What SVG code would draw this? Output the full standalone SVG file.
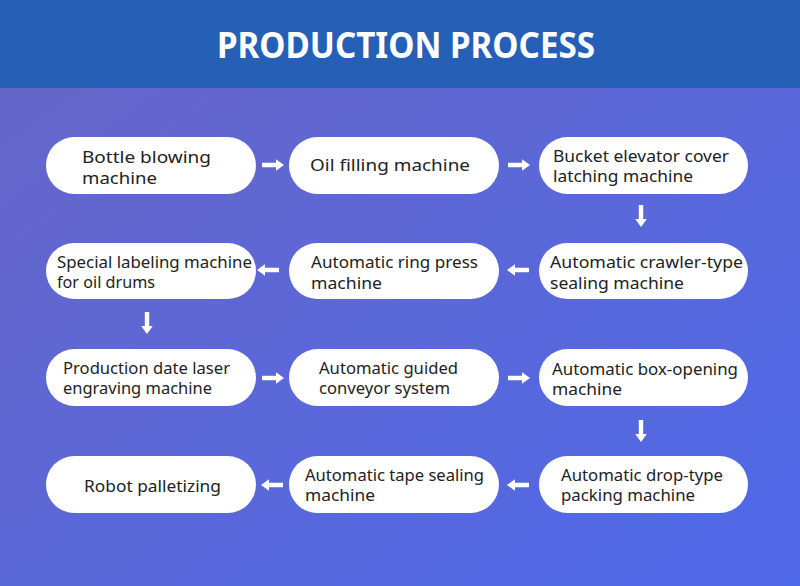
<svg xmlns="http://www.w3.org/2000/svg" width="800" height="586" viewBox="0 0 800 586">
<defs>
<linearGradient id="bg" x1="0" y1="0" x2="1" y2="1">
<stop offset="0" stop-color="#6866c6"/>
<stop offset="1" stop-color="#4e69e9"/>
</linearGradient>
<style>
.n{fill:#ffffff}
.t{font-family:"Noto Sans","Liberation Sans",sans-serif;font-size:17px;fill:#222222}
.h{font-family:"Noto Sans","Liberation Sans",sans-serif;font-size:35px;font-weight:bold;fill:#ffffff}
.a{fill:#ffffff}
</style>
<path id="ar" d="M-11,-2.2 L3,-2.2 L3,-5.8 L11,0 L3,5.8 L3,2.2 L-11,2.2 Z"/>
</defs>
<rect x="0" y="0" width="800" height="586" fill="url(#bg)"/>
<rect x="0" y="0" width="800" height="88" fill="#2660b6"/>
<text class="h" x="406" y="58" text-anchor="middle" textLength="378" lengthAdjust="spacingAndGlyphs">PRODUCTION PROCESS</text>

<g id="connectors" class="a">
<use href="#ar" transform="translate(273,165)"/>
<use href="#ar" transform="translate(519,165)"/>
<use href="#ar" transform="translate(641,216) rotate(90)"/>
<use href="#ar" transform="translate(518,270) rotate(180)"/>
<use href="#ar" transform="translate(268,270) rotate(180)"/>
<use href="#ar" transform="translate(147,323) rotate(90)"/>
<use href="#ar" transform="translate(273,378)"/>
<use href="#ar" transform="translate(519,378)"/>
<use href="#ar" transform="translate(641,431) rotate(90)"/>
<use href="#ar" transform="translate(518,485) rotate(180)"/>
<use href="#ar" transform="translate(272,485) rotate(180)"/>
</g>

<g id="n1"><rect class="n" x="46" y="137" width="210" height="57" rx="28.5"/>
<text class="t" x="82" y="163" textLength="129" lengthAdjust="spacingAndGlyphs">Bottle blowing</text>
<text class="t" x="82" y="184" textLength="75" lengthAdjust="spacingAndGlyphs">machine</text></g>

<g id="n2"><rect class="n" x="289" y="137" width="210" height="57" rx="28.5"/>
<text class="t" x="310" y="171" textLength="160" lengthAdjust="spacingAndGlyphs">Oil filling machine</text></g>

<g id="n3"><rect class="n" x="539" y="137" width="209" height="57" rx="28.5"/>
<text class="t" x="553" y="162" textLength="176" lengthAdjust="spacingAndGlyphs">Bucket elevator cover</text>
<text class="t" x="553" y="182" textLength="140" lengthAdjust="spacingAndGlyphs">latching machine</text></g>

<g id="n4"><rect class="n" x="539" y="243" width="209" height="56" rx="28"/>
<text class="t" x="550" y="268" textLength="193" lengthAdjust="spacingAndGlyphs">Automatic crawler-type</text>
<text class="t" x="550" y="289" textLength="134" lengthAdjust="spacingAndGlyphs">sealing machine</text></g>

<g id="n5"><rect class="n" x="289" y="243" width="210" height="56" rx="28"/>
<text class="t" x="311" y="268" textLength="167" lengthAdjust="spacingAndGlyphs">Automatic ring press</text>
<text class="t" x="311" y="289" textLength="71" lengthAdjust="spacingAndGlyphs">machine</text></g>

<g id="n6"><rect class="n" x="46" y="243" width="210" height="56" rx="28"/>
<text class="t" x="57" y="268" textLength="195" lengthAdjust="spacingAndGlyphs">Special labeling machine</text>
<text class="t" x="57" y="288" textLength="98" lengthAdjust="spacingAndGlyphs">for oil drums</text></g>

<g id="n7"><rect class="n" x="46" y="349" width="210" height="57" rx="28.5"/>
<text class="t" x="63" y="374" textLength="167" lengthAdjust="spacingAndGlyphs">Production date laser</text>
<text class="t" x="63" y="394" textLength="149" lengthAdjust="spacingAndGlyphs">engraving machine</text></g>

<g id="n8"><rect class="n" x="289" y="349" width="210" height="57" rx="28.5"/>
<text class="t" x="319" y="374" textLength="139" lengthAdjust="spacingAndGlyphs">Automatic guided</text>
<text class="t" x="319" y="394" textLength="131" lengthAdjust="spacingAndGlyphs">conveyor system</text></g>

<g id="n9"><rect class="n" x="539" y="349" width="209" height="57" rx="28.5"/>
<text class="t" x="552" y="375" textLength="186" lengthAdjust="spacingAndGlyphs">Automatic box-opening</text>
<text class="t" x="552" y="395" textLength="70" lengthAdjust="spacingAndGlyphs">machine</text></g>

<g id="n10"><rect class="n" x="539" y="456" width="209" height="57" rx="28.5"/>
<text class="t" x="561" y="481" textLength="162" lengthAdjust="spacingAndGlyphs">Automatic drop-type</text>
<text class="t" x="561" y="501" textLength="134" lengthAdjust="spacingAndGlyphs">packing machine</text></g>

<g id="n11"><rect class="n" x="289" y="456" width="210" height="57" rx="28.5"/>
<text class="t" x="305" y="481" textLength="179" lengthAdjust="spacingAndGlyphs">Automatic tape sealing</text>
<text class="t" x="305" y="501" textLength="70" lengthAdjust="spacingAndGlyphs">machine</text></g>

<g id="n12"><rect class="n" x="46" y="456" width="210" height="57" rx="28.5"/>
<text class="t" x="84" y="492" textLength="137" lengthAdjust="spacingAndGlyphs">Robot palletizing</text></g>
</svg>
